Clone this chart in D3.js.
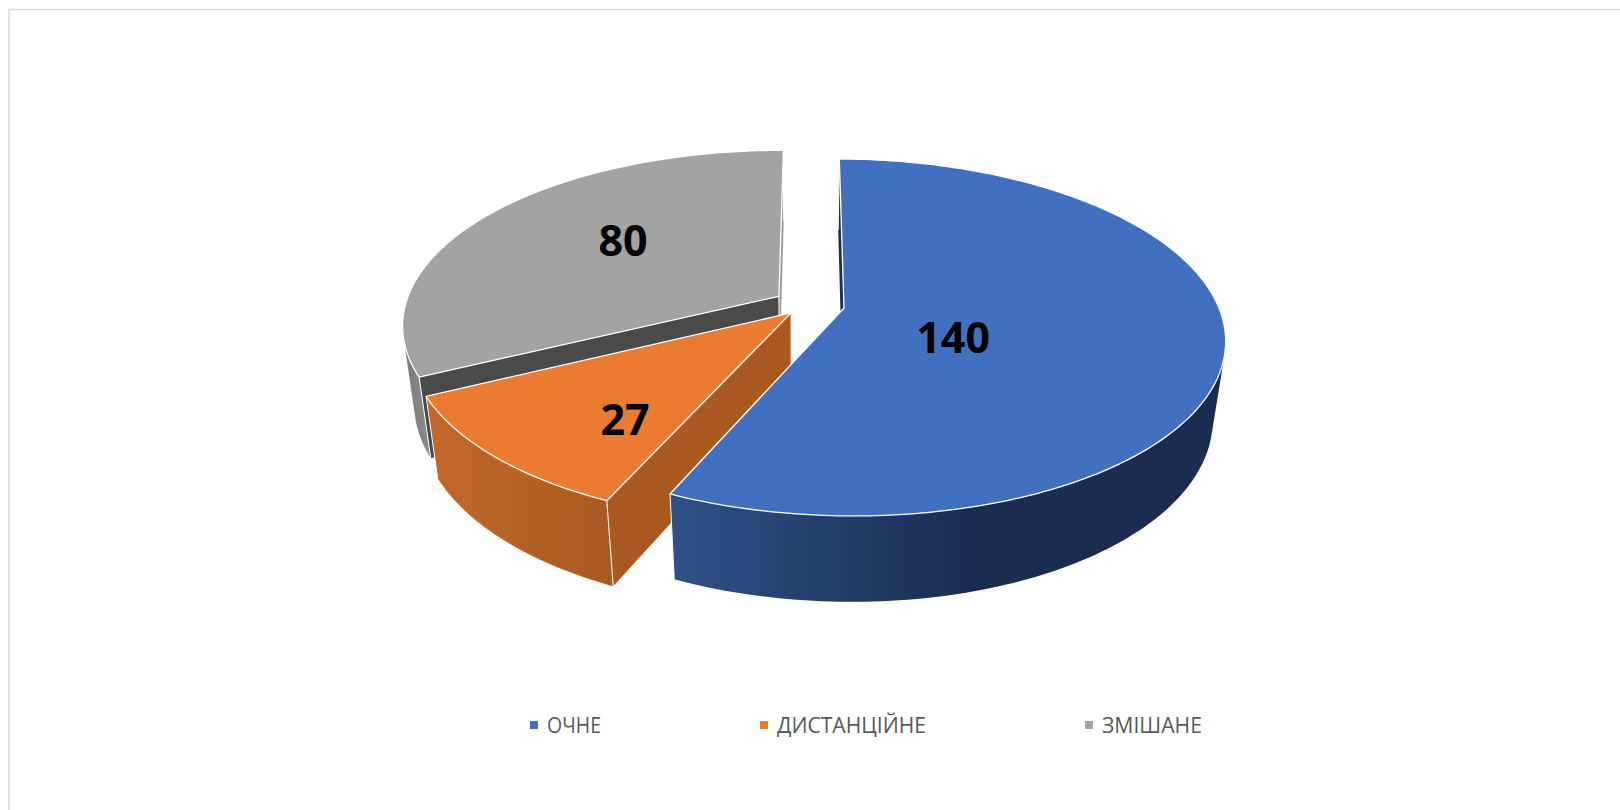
<!DOCTYPE html>
<html lang="en">
<head>
<meta charset="UTF-8">
<title>Chart</title>
<script src="https://d3js.org/d3.v7.min.js"></script>
<style>
  html, body { margin: 0; padding: 0; background: #fff; }
  svg { display: block; }
  .label { font: bold 43px "Open Sans", sans-serif; fill: #000; text-anchor: middle; dominant-baseline: central; }
  .legend { font: 21px "Open Sans", sans-serif; fill: #595959; dominant-baseline: central; }
</style>
</head>
<body>
<svg id="chart" width="1620" height="810"></svg>
<script>
const categories = ['ОЧНЕ', 'ДИСТАНЦІЙНЕ', 'ЗМІШАНЕ'];
const values = [140, 27, 80];
const colors = ['#4270c0', '#ea7b30', '#a3a3a3'];

// explode offset and label anchor of each slice, in units of the pie radius
const explode = [[0, 0], [-0.141, 0.028], [-0.174, -0.068]];
const labelAt = [[0.28, 0.16], [-0.541, 0.575], [-0.621, -0.419]];

// side colours: outer wall gradient (left, right), radial walls (start, end)
const wallGrad = [['#2f5188', '#1a2c50'], ['#c4682a', '#a85a20'], ['#7a7a7a', '#8c8c8c']];
const sideFill = [['#1c3157', '#1c3157'], ['#aa5a20', '#aa5a20'], ['#4a4a4a', '#9a9a9a']];

const width = 1620, height = 810;
const vx = 795;                 // verticals converge on this x
const ox = 49;                  // pie axis sits this far right of it
const cy = 308;                 // pie axis on the top face
const rx = 375, ry = 173.6;     // radius across and in depth
const persp = 0.165;            // near edge looks bigger
const thick = 80.6;             // wall height
const thickD = 0.03;            // bottom face is further from the eye
const startDeg = 0.4;

const svg = d3.select('#chart');
const defs = svg.append('defs');

// frame round the chart
svg.append('path')
   .attr('d', `M9,${height}V9.5H${width}`)
   .attr('fill', 'none').attr('stroke', '#d9d9d9').attr('stroke-width', 1.6);

// (X, z) on the pie plane, z towards the viewer; lower = true for the bottom face
function project(X, z, lower) {
    const D = 1 - persp * z + (lower ? thickD : 0);
    return [vx + (ox + rx * X) / D, cy + (ry * z + (lower ? thick : 0)) / D];
}

const pie = d3.pie().sort(null)
    .startAngle(startDeg * Math.PI / 180)
    .endAngle((startDeg + 360) * Math.PI / 180);
const arcs = pie(values);
const line = d3.line();

function rimPoints(i, a0, a1) {
    const [ex, ez] = explode[i];
    const n = Math.max(2, Math.ceil((a1 - a0) / 0.02));
    return d3.range(n + 1).map(k => {
        const a = a0 + (a1 - a0) * k / n;
        return [ex + Math.sin(a), ez - Math.cos(a)];
    });
}

function drawSlice(i) {
    const d = arcs[i];
    const g = svg.append('g');
    const rim = rimPoints(i, d.startAngle, d.endAngle);
    const apex = explode[i];
    const first = rim[0], last = rim[rim.length - 1];
    const top = p => project(p[0], p[1], false);
    const low = p => project(p[0], p[1], true);

    const gradId = 'wall' + i;
    const grad = defs.append('linearGradient').attr('id', gradId);
    grad.append('stop').attr('offset', '0%').attr('stop-color', wallGrad[i][0]);
    grad.append('stop').attr('offset', i === 0 ? '55%' : '100%').attr('stop-color', wallGrad[i][1]);

    [first, last].forEach((p, k) => g.append('path')
        .attr('d', line([top(apex), top(p), low(p), low(apex)]) + 'Z')
        .attr('fill', sideFill[i][k]));

    // keep only the part of the wall that faces the viewer, a folded ribbon leaves a hole
    const front = rim.filter((p, k) => {
        const q = rim[Math.min(k + 1, rim.length - 1)], o = rim[Math.max(k - 1, 0)];
        const a = top(o), b = top(q), t = top(p), l = low(p);
        return (b[0] - a[0]) * (l[1] - t[1]) - (b[1] - a[1]) * (l[0] - t[0]) < 0;
    });
    g.append('path')
        .attr('d', line(front.map(top).concat(front.map(low).reverse())) + 'Z')
        .attr('fill', `url(#${gradId})`);

    // white vertical edges only, the bottom of the walls has no outline
    [apex, first, last].forEach(p => g.append('path')
        .attr('d', line([top(p), low(p)]))
        .attr('stroke', '#fff').attr('stroke-width', 1).attr('fill', 'none'));

    g.append('path')
        .attr('d', line([top(apex)].concat(rim.map(top))) + 'Z')
        .attr('fill', colors[i])
        .attr('stroke', '#fff').attr('stroke-width', 1.3)
        .attr('stroke-linejoin', 'round');
}

// back to front
[2, 1, 0].forEach(drawSlice);

values.forEach((v, i) => {
    const p = project(labelAt[i][0], labelAt[i][1], false);
    svg.append('text').attr('class', 'label')
       .attr('x', p[0]).attr('y', p[1]).text(v);
});

// legend
const legendX = d3.scaleOrdinal().domain(categories).range([530, 760, 1085]);
const legendW = d3.scaleOrdinal().domain(categories).range([54, 149, 100]);
categories.forEach((c, i) => {
    const x = legendX(c);
    svg.append('rect').attr('x', x).attr('y', 721).attr('width', 8).attr('height', 8).attr('fill', colors[i]);
    svg.append('text').attr('class', 'legend')
       .attr('x', x + 17).attr('y', 725)
       .attr('textLength', legendW(c)).attr('lengthAdjust', 'spacingAndGlyphs')
       .text(c);
});
</script>
</body>
</html>
